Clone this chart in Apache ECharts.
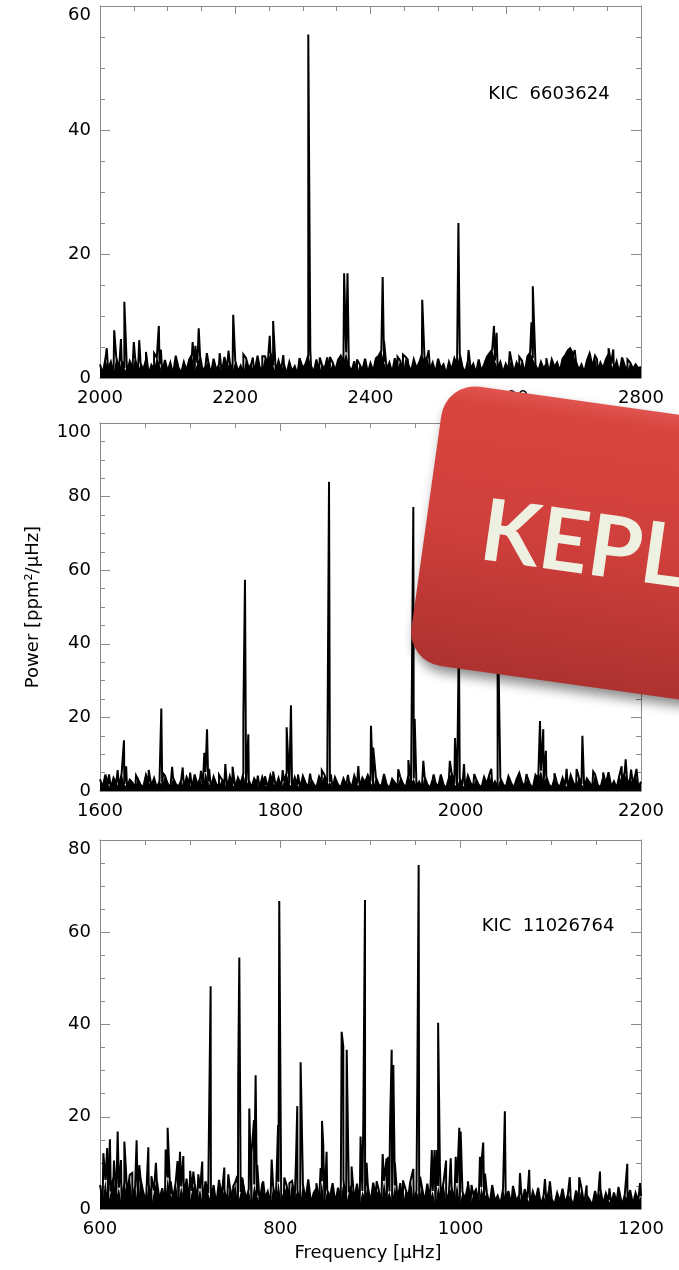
<!DOCTYPE html>
<html>
<head>
<meta charset="utf-8">
<script src="https://cdn.jsdelivr.net/npm/echarts@6/dist/echarts.min.js"></script>
<style>html,body{margin:0;padding:0;background:#fff}#c{width:679px;height:1270px}</style>
</head>
<body>
<div id="c"></div>
<script>
// ---------- Panel 1 : KIC 6603624 ----------
const xTicks1 = [2000, 2200, 2400, 2600, 2800];
const yTicks1 = [0, 20, 40, 60];
const noiseStart1 = 2000, noiseStep1 = 4;
const noise1 = [
 2.2,0.7,3.1,1.4,2.6,0.5,3.4,1.2,2.8,1.6,
 0.9,2.7,1.5,3.2,0.8,2.4,1.3,3.0,0.6,2.1,
 1.4,3.3,2.2,0.9,2.9,1.1,2.5,0.6,3.6,1.7,
 0.8,2.6,1.2,3.0,3.8,1.0,2.4,3.5,1.1,1.9,
 2.7,0.6,3.1,1.3,2.2,0.8,3.4,1.6,2.5,0.9,
 2.8,1.1,2.0,0.6,3.2,1.5,2.4,0.8,3.0,1.8,
 1.2,3.5,2.3,4.2,2.0,0.9,2.8,1.3,2.2,0.7,
 2.6,1.1,1.9,0.6,3.1,1.6,2.3,3.7,2.0,0.9,
 3.0,0.8,2.2,1.4,3.3,1.0,2.5,1.2,2.9,3.6,
 2.5,4.1,2.0,1.1,2.7,0.7,2.2,1.3,3.1,0.9,
 2.4,1.1,3.2,3.6,4.4,2.6,1.3,2.5,0.9,3.2,
 1.5,2.8,0.8,3.4,2.1,1.1,3.0,1.6,2.5,3.8,
 2.8,3.4,1.3,2.5,0.9,3.1,1.6,2.2,0.7,2.6,
 1.3,3.2,2.0,3.9,1.8,0.9,2.8,1.5,2.3,0.8,
 3.0,1.1,2.2,3.4,4.0,4.6,2.8,1.5,2.6,0.9,
 2.3,1.3,3.1,0.9,2.5,1.6,2.8,0.8,3.5,4.1,
 3.2,2.1,1.1,2.6,1.5,2.3,0.9,3.0,1.8,2.5,
 1.1,3.1,3.7,4.5,5.0,3.8,2.6,1.3,2.2,0.9,
 2.8,4.0,1.8,3.6,1.1,2.5,1.6,3.0,3.9,2.3,
 1.3,2.7,0.9,3.3,2.0,1.1,2.5,1.5,2.2,1.6,
 1.8
];
const peaks1 = [
 [2010,4.8],[2021,7.7],[2031,6.3],[2036,12.3],[2050,5.8],[2058,6.1],[2068,4.2],[2080,4.0],
 [2087,8.4],[2090,4.6],[2137,5.8],[2141,5.2],[2146,8.0],[2158,4.0],[2177,4.0],[2190,4.4],
 [2197,10.2],[2212,3.8],[2226,3.3],[2233,3.6],[2240,3.5],[2251,6.8],[2256,9.2],[2271,3.7],
 [2295,3.2],[2308,55.4],[2311,4.5],[2325,3.3],[2340,3.4],[2361,16.9],[2366,16.9],[2380,3.0],
 [2418,16.3],[2420,6.0],[2440,3.4],[2448,3.8],[2455,3.0],[2476.5,12.6],[2486,4.5],[2500,3.2],
 [2530,25.0],[2545,4.5],[2562,3.0],[2582.6,8.4],[2586.5,7.3],[2606,4.3],[2620,3.4],[2638,9.0],
 [2640,14.8],[2660,3.2],[2695,4.8],[2702,4.5],[2725,3.6],[2735,3.0],[2752,4.8],[2759,4.6],[2780,3.0]
];

// ---------- Panel 2 ----------
const xTicks2 = [1600, 1800, 2000, 2200];
const yTicks2 = [0, 20, 40, 60, 80, 100];
const noiseStart2 = 1600, noiseStep2 = 3;
const noise2 = [
 3.2,1.0,4.5,1.8,0.8,3.6,2.2,1.1,4.8,1.9,
 0.9,3.1,2.3,0.7,4.0,1.7,1.0,4.4,2.5,1.4,
 3.5,0.9,2.6,1.5,4.2,2.0,0.8,3.6,1.9,1.2,
 2.9,0.9,3.8,2.2,0.8,4.5,1.7,3.4,1.1,5.2,
 2.5,0.9,3.9,1.9,1.1,3.2,2.3,0.7,4.1,1.7,
 1.0,3.6,2.0,4.8,1.4,3.0,0.9,3.4,2.2,0.8,
 3.8,1.7,0.9,4.3,2.3,1.2,3.5,0.8,2.6,5.0,
 2.0,1.0,3.7,1.7,0.8,4.1,2.2,1.0,3.2,1.9,
 0.9,3.9,2.3,4.4,1.4,2.5,0.8,3.5,1.7,1.0,
 3.4,1.5,2.8,0.8,4.2,2.0,1.0,3.6,2.4,4.3,
 2.6,0.9,3.7,1.8,1.2,4.6,1.7,0.8,3.3,2.3,
 1.0,3.8,2.0,0.9,4.3,2.2,3.4,1.2,2.5,0.8,
 3.9,1.8,0.9,3.2,2.3,1.0,4.5,1.7,0.8,3.6,
 4.8,2.0,1.0,3.4,1.7,0.8,4.2,2.2,1.2,3.3,
 1.7,0.9,3.8,2.0,4.7,1.4,2.6,0.8,3.5,1.9,
 1.0,4.0,2.2,0.9,3.2,4.9,2.3,1.2,3.7,1.7,
 0.8,4.4,3.4,5.5,2.5,3.9,1.7,0.9,3.3,2.0,
 1.0,3.6,1.7,0.8,4.3,2.2,1.2,3.8,1.9,0.9,
 3.4,2.3,1.0,4.6,1.7,0.9,3.7,2.0,5.1,1.2,
 2.6,0.8,4.2,2.2,5.3,1.4,3.5,1.9,4.7,1.0,
 2.5
];
const peaks2 = [
 [1610,4.5],[1619.6,5.7],[1626.6,13.8],[1629,6.7],[1640,4.2],[1654,5.7],[1668,22.4],[1670,4.8],
 [1680,6.6],[1691.7,6.4],[1700,5.0],[1712,5.5],[1715.7,10.4],[1718.7,16.8],[1721,6.0],[1732,4.4],
 [1739,7.3],[1747,6.6],[1759,20.4],[1760.8,57.4],[1764.5,15.4],[1775,4.2],[1783,4.0],[1792,5.3],
 [1802.6,5.7],[1807,17.3],[1811.8,23.3],[1819.6,4.5],[1833,4.7],[1846,5.6],[1854,84.0],[1856,4.5],
 [1860.6,3.7],[1875,4.4],[1886.5,6.8],[1900.5,17.7],[1903,11.8],[1915,4.5],[1930.8,5.9],[1942,8.4],
 [1947.5,77.2],[1949,19.6],[1958.6,8.2],[1970,4.5],[1988,8.2],[1993.7,14.4],[1998,42.0],[2003.7,7.3],
 [2015,4.6],[2034,6.0],[2041,50.0],[2055,4.5],[2066,4.6],[2073,4.6],[2088,19.0],[2091.6,16.8],
 [2094.5,10.9],[2104,4.8],[2117.5,6.0],[2128.6,6.0],[2135,15.0],[2147,5.3],[2158,5.0],[2165,5.5],
 [2178.5,6.7],[2183,8.6],[2189,5.8],[2195,6.0]
];

// ---------- Panel 3 : KIC 11026764 ----------
const xTicks3 = [600, 800, 1000, 1200];
const yTicks3 = [0, 20, 40, 60, 80];
const noiseStart3 = 600, noiseStep3 = 3;
const noise3 = [
 5.2,1.8,6.3,1.3,3.8,7.0,2.4,4.6,1.0,5.7,
 3.0,7.4,1.8,5.0,1.2,6.5,3.6,1.6,5.4,0.9,
 4.0,6.2,2.1,4.5,1.3,6.8,3.2,2.2,5.9,1.5,
 4.9,2.5,6.6,1.2,3.9,5.5,1.9,4.4,1.0,6.0,
 3.4,1.6,5.2,0.9,6.3,2.8,4.1,1.3,4.8,2.1,
 5.8,1.2,3.7,6.9,2.2,4.3,1.0,5.3,2.9,1.5,
 5.5,2.4,3.8,0.9,4.9,1.8,5.9,1.3,3.3,5.1,
 1.5,6.1,2.5,4.0,1.0,5.4,2.1,6.4,1.2,3.5,
 4.5,1.6,6.0,1.0,4.1,2.6,5.6,1.3,4.6,1.9,
 6.2,1.2,3.6,5.2,1.8,5.5,0.9,3.9,2.4,5.0,
 1.3,5.7,2.9,4.3,1.0,6.1,2.2,3.8,1.5,5.1,
 1.9,5.6,1.0,4.2,2.7,6.0,1.2,4.0,2.3,4.8,
 1.5,5.5,2.0,3.9,0.9,5.0,2.6,5.8,1.3,3.5,
 4.6,1.6,5.6,1.0,3.7,2.2,5.1,1.2,3.2,4.2,
 1.3,4.7,2.3,3.6,0.9,5.2,1.8,2.9,1.0,4.4,
 2.0,3.9,0.8,4.8,1.6,3.2,1.1,4.3,2.4,1.0,
 3.8,1.9,4.6,0.8,3.0,1.4,4.2,2.1,1.0,3.5,
 1.6,4.4,1.1,3.3,2.3,0.8,4.0,1.7,4.5,1.0,
 2.9,2.0,0.8,3.9,1.6,4.3,1.1,3.4,1.9,1.0,
 3.6,1.4,4.6,0.8,3.1,2.1,4.1,1.1,3.5,1.7,
 2.8
];
const peaks3 = [
 [603.7,12.1],[608,13.2],[611,15.1],[615.5,10.5],[619.6,16.8],[623.3,10.6],[627,14.6],[628.8,8.5],
 [635.8,7.8],[640.6,14.9],[643.6,9.5],[653.6,13.4],[657,7.1],[662,10.0],[672.8,12.9],[675,17.6],
 [678.4,6.0],[686,10.4],[688.7,12.4],[692.4,11.5],[700,8.3],[703.5,8.1],[709,7.5],[713.4,10.3],
 [722.7,48.3],[727.5,5.5],[737.9,9.0],[742.3,7.5],[747.8,5.0],[752.3,7.2],[753.3,29.0],[754.5,54.5],
 [757,6.9],[765.6,21.8],[768,12.1],[770.8,19.3],[772.6,29.0],[774.4,9.5],[781,6.0],[790.4,10.7],
 [797.5,18.2],[798.8,66.8],[804.4,6.8],[810,5.6],[817.4,10.7],[818.8,22.3],[822.5,31.8],[824.8,8.4],
 [831,6.5],[840,5.6],[844.7,8.9],[846.2,19.1],[847.6,13.9],[851.3,12.4],[858,5.5],[868,38.4],
 [869.8,35.2],[873.6,34.5],[879,9.2],[889,15.7],[892,18.9],[893.9,67.0],[895.7,10.0],[906.8,6.0],
 [913.5,11.9],[917.8,11.0],[919.7,11.3],[921.6,17.1],[923.5,34.5],[925.3,31.2],[927,10.0],[936,6.2],
 [944,5.8],[947.5,8.7],[952,29.5],[953.4,74.6],[955,7.0],[968,12.8],[971,12.8],[973.6,12.8],
 [975,40.4],[977,9.0],[983.8,10.5],[989,11.0],[994.5,11.3],[998.5,17.6],[1000,16.8],[1008,6.0],
 [1012,5.2],[1021.4,11.3],[1023.3,10.6],[1025,14.4],[1027,7.7],[1036,5.2],[1049,21.2],[1058,5.0],
 [1065.8,7.8],[1076,8.5],[1093.5,6.5],[1099,6.0],[1121,6.9],[1131.5,6.9],[1139.7,5.1],[1154.5,8.1],
 [1165,4.5],[1175,4.8],[1184.8,9.8],[1198.9,5.6]
];

const starLabels = ['KIC  6603624', 'KIC  11026764'];
const yAxisTitle = 'Power [ppm\u00b2/\u03bcHz]';
const xAxisTitle = 'Frequency [\u03bcHz]';
const badgeText = 'KEPLER';

// ---------- build ----------
function noisePoints(start, step, noise) {
  return noise.map((v, i) => [start + i * step, v]);
}
function buildSpectrum(start, step, noise, peaks) {
  const pts = noisePoints(start, step, noise);
  peaks.forEach(p => pts.push([p[0], p[1]]));
  pts.sort((a, b) => a[0] - b[0]);
  return pts;
}
const FONT = 'DejaVu Sans';
const AX = '#8a8a8a';
const plain = v => String(v);
function xAxisDef(gi, ticks, pos, showLabel) {
  return {
    type: 'value', gridIndex: gi, position: pos,
    min: ticks[0], max: ticks[ticks.length - 1], interval: ticks[1] - ticks[0],
    axisLine: { show: true, onZero: false, lineStyle: { color: AX, width: 1 } },
    axisTick: { show: true, inside: true, length: 8, lineStyle: { color: AX } },
    minorTick: { show: true, splitNumber: 4, length: 5, lineStyle: { color: AX } },
    splitLine: { show: false }, minorSplitLine: { show: false },
    axisLabel: { show: showLabel, margin: 11, color: '#000', fontSize: 18, fontFamily: FONT,
      showMinLabel: true, showMaxLabel: true, formatter: plain }
  };
}
function yAxisDef(gi, ticks, pos, showLabel) {
  return {
    type: 'value', gridIndex: gi, position: pos,
    min: ticks[0], max: ticks[ticks.length - 1], interval: ticks[1] - ticks[0],
    axisLine: { show: true, onZero: false, lineStyle: { color: AX, width: 1 } },
    axisTick: { show: true, inside: true, length: 10, lineStyle: { color: AX } },
    minorTick: { show: true, splitNumber: 4, length: 5, lineStyle: { color: AX } },
    splitLine: { show: false }, minorSplitLine: { show: false },
    axisLabel: { show: showLabel, margin: 9, color: '#000', fontSize: 18, fontFamily: FONT,
      showMinLabel: true, showMaxLabel: true, verticalAlignMaxLabel: 'top', formatter: plain }
  };
}
const grids = [
  { left: 100, width: 541, top: 6, height: 372 },
  { left: 100, width: 541, top: 423, height: 368 },
  { left: 100, width: 541, top: 840, height: 369 }
];
const xt = [xTicks1, xTicks2, xTicks3], yt = [yTicks1, yTicks2, yTicks3];
const xAxes = [], yAxes = [];
for (let g = 0; g < 3; g++) {
  xAxes.push(xAxisDef(g, xt[g], 'bottom', true));
  xAxes.push(xAxisDef(g, xt[g], 'top', false));
  yAxes.push(yAxisDef(g, yt[g], 'left', true));
  yAxes.push(yAxisDef(g, yt[g], 'right', false));
}
const noiseSets = [
  [noiseStart1, noiseStep1, noise1, peaks1],
  [noiseStart2, noiseStep2, noise2, peaks2],
  [noiseStart3, noiseStep3, noise3, peaks3]
];
const series = [];
noiseSets.forEach((s, g) => {
  // dense, unresolved noise floor drawn as a filled band
  series.push({
    type: 'line', data: noisePoints(s[0], s[1], s[2]), xAxisIndex: g * 2, yAxisIndex: g * 2,
    showSymbol: false, symbol: 'none', animation: false, silent: true,
    lineStyle: { width: 0 }, areaStyle: { color: '#000', opacity: 1, origin: 'start' }, z: 1
  });
  series.push({
    type: 'line', data: buildSpectrum(s[0], s[1], s[2], s[3]), xAxisIndex: g * 2, yAxisIndex: g * 2,
    showSymbol: false, symbol: 'none', animation: false,
    lineStyle: { color: '#000', width: 2, join: 'miter', miterLimit: 4 }, z: 2
  });
});

const deg = Math.PI / 180;
const graphic = [
  { type: 'text', x: 549, y: 94, z: 50, style: { text: starLabels[0], fill: '#000', fontSize: 18, fontFamily: FONT, align: 'center', verticalAlign: 'middle' } },
  { type: 'text', x: 548, y: 926, z: 50, style: { text: starLabels[1], fill: '#000', fontSize: 18, fontFamily: FONT, align: 'center', verticalAlign: 'middle' } },
  { type: 'text', x: 33, y: 607, rotation: Math.PI / 2, z: 50, style: { text: yAxisTitle, fill: '#000', fontSize: 18, fontFamily: FONT, align: 'center', verticalAlign: 'middle' } },
  { type: 'text', x: 368, y: 1253, z: 50, style: { text: xAxisTitle, fill: '#000', fontSize: 18, fontFamily: FONT, align: 'center', verticalAlign: 'middle' } },
  { type: 'group', x: 446, y: 382, rotation: -8 * deg, z: 100,
    children: [
      { type: 'rect', z: 100, shape: { x: 0, y: 0, width: 620, height: 282, r: 34 },
        style: {
          fill: new echarts.graphic.LinearGradient(0, 0, 0, 1, [
            { offset: 0, color: '#e0544f' }, { offset: 0.06, color: '#d8453f' },
            { offset: 0.5, color: '#cf3f3b' }, { offset: 1, color: '#ad3230' }
          ]),
          shadowBlur: 12, shadowOffsetX: 3, shadowOffsetY: 7, shadowColor: 'rgba(0,0,0,0.45)'
        } },
      { type: 'text', z: 101, x: 56, y: 143,
        style: { text: badgeText, fill: '#eef0e2', fontSize: 86, fontWeight: 'bold', fontFamily: 'Lato', align: 'left', verticalAlign: 'middle' } }
    ] }
];

const chart = echarts.init(document.getElementById('c'), null, { renderer: 'canvas' });
chart.setOption({
  animation: false,
  backgroundColor: '#fff',
  grid: grids,
  xAxis: xAxes,
  yAxis: yAxes,
  series: series,
  graphic: graphic
});
</script>
</body>
</html>
